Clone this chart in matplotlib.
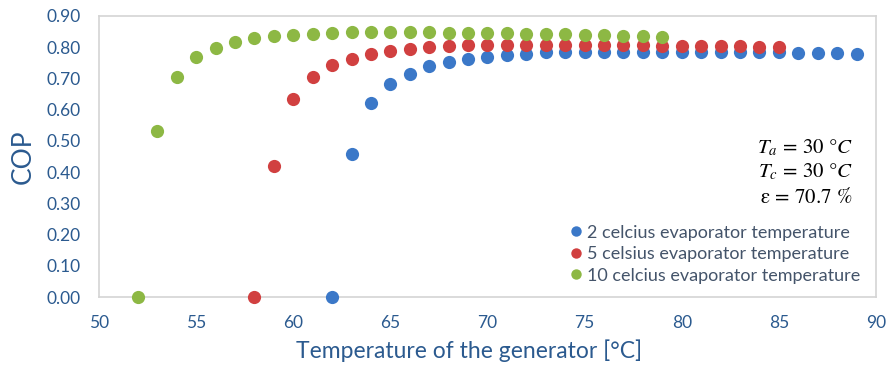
import matplotlib
matplotlib.use("Agg")
import matplotlib.pyplot as plt
from matplotlib.lines import Line2D

plt.rcParams['font.family'] = ['Lato', 'DejaVu Sans']
plt.rcParams['mathtext.fontset'] = 'stix'

# generator temperature [°C] and COP for each evaporator temperature
t_2 = list(range(62, 90))
cop_2 = [0.000, 0.459, 0.622, 0.681, 0.715, 0.741, 0.754, 0.762, 0.770, 0.775,
         0.778, 0.783, 0.784, 0.784, 0.784, 0.785, 0.785, 0.785, 0.786, 0.786,
         0.786, 0.786, 0.786, 0.786, 0.781, 0.781, 0.780, 0.777]

t_5 = list(range(58, 86))
cop_5 = [0.000, 0.421, 0.635, 0.705, 0.742, 0.762, 0.778, 0.788, 0.793, 0.800,
         0.803, 0.806, 0.807, 0.808, 0.808, 0.808, 0.808, 0.808, 0.808, 0.808,
         0.807, 0.805, 0.804, 0.804, 0.803, 0.803, 0.802, 0.801]

t_10 = list(range(52, 80))
cop_10 = [0.000, 0.532, 0.705, 0.767, 0.797, 0.815, 0.828, 0.835, 0.839, 0.841,
          0.845, 0.847, 0.848, 0.849, 0.848, 0.848, 0.846, 0.846, 0.846, 0.846,
          0.843, 0.843, 0.843, 0.838, 0.838, 0.835, 0.835, 0.833]

labels = ['2 celcius evaporator temperature',
          '5 celsius evaporator temperature',
          '10 celcius evaporator temperature']
colors = ['#3B78C8', '#D14040', '#8DB844']

notes = [r'$T_a\,=\,30\ °C$', r'$T_c\,=\,30\ °C$', r'$\mathrm{\varepsilon}\,=\,70.7\ \%$']

text_col = '#2B5A8F'
legend_col = '#44546A'
frame_col = '#D4D4D4'

fig = plt.figure(figsize=(8.92, 3.70), dpi=100)
ax = fig.add_axes([0.111, 0.197, 0.871, 0.760])

for t, c, col in zip([t_2, t_5, t_10], [cop_2, cop_5, cop_10], colors):
    ax.plot(t, c, 'o', color=col, markersize=9.5, markeredgewidth=0, clip_on=False, zorder=3)

ax.set_xlim(50, 90)
ax.set_ylim(0, 0.9)
ax.set_xticks(range(50, 91, 5))
ax.set_yticks([i / 10 for i in range(10)])
ax.set_yticklabels(['%.2f' % (i / 10) for i in range(10)])
ax.tick_params(length=0, labelsize=12.5, labelcolor=text_col, pad=13)
for s in ax.spines.values():
    s.set_color(frame_col)
    s.set_linewidth(1.2)

ax.set_xlabel('Temperature of the generator [°C]', fontsize=16.5, color=text_col)
ax.xaxis.set_label_coords(0.476, -0.152)
ax.set_ylabel('COP', fontsize=19, color=text_col, labelpad=8)

for note, y in zip(notes, [0.530, 0.445, 0.356]):
    ax.text(0.970, y, note, transform=ax.transAxes, ha='right', va='center', fontsize=15)

handles = [Line2D([], [], ls='none', marker='o', color=col, markersize=7.5, markeredgewidth=0) for col in colors]
leg = ax.legend(handles, labels, loc='center right', bbox_to_anchor=(0.980, 0.153), frameon=False,
                fontsize=13, handletextpad=0.1, handlelength=1.0, labelspacing=0.3,
                borderaxespad=0, borderpad=0)
for txt in leg.get_texts():
    txt.set_color(legend_col)

fig.savefig('out.png', dpi=100)
